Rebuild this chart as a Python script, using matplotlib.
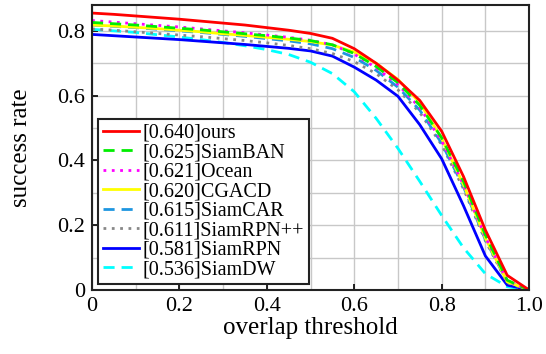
import matplotlib
matplotlib.use("Agg")
import matplotlib.pyplot as plt
import numpy as np

# umbrales de solapamiento
umbral = [0.0, 0.05, 0.1, 0.15, 0.2, 0.25, 0.3, 0.35, 0.4, 0.45, 0.5,
          0.55, 0.6, 0.65, 0.7, 0.75, 0.8, 0.85, 0.9, 0.95, 1.0]

ours = [0.855, 0.851, 0.846, 0.841, 0.836, 0.830, 0.824, 0.818, 0.810, 0.802, 0.792,
        0.777, 0.745, 0.700, 0.648, 0.585, 0.490, 0.350, 0.185, 0.045, 0.0]
siamban = [0.826, 0.822, 0.818, 0.813, 0.808, 0.803, 0.797, 0.791, 0.785, 0.778, 0.770,
           0.757, 0.730, 0.690, 0.640, 0.570, 0.470, 0.335, 0.170, 0.030, 0.0]
ocean = [0.832, 0.827, 0.822, 0.817, 0.812, 0.806, 0.800, 0.794, 0.787, 0.780, 0.771,
         0.757, 0.728, 0.686, 0.634, 0.563, 0.460, 0.325, 0.163, 0.028, 0.0]
cgacd = [0.818, 0.815, 0.811, 0.807, 0.802, 0.797, 0.791, 0.786, 0.780, 0.774, 0.767,
         0.756, 0.735, 0.700, 0.650, 0.578, 0.468, 0.325, 0.160, 0.025, 0.0]
siamcar = [0.818, 0.814, 0.810, 0.805, 0.800, 0.795, 0.789, 0.783, 0.776, 0.769, 0.760,
           0.745, 0.718, 0.678, 0.626, 0.555, 0.453, 0.318, 0.155, 0.025, 0.0]
siamrpnpp = [0.806, 0.802, 0.797, 0.792, 0.787, 0.782, 0.776, 0.770, 0.763, 0.755, 0.745,
             0.730, 0.705, 0.668, 0.618, 0.548, 0.448, 0.312, 0.152, 0.022, 0.0]
siamrpn = [0.789, 0.785, 0.781, 0.777, 0.773, 0.768, 0.763, 0.758, 0.752, 0.746, 0.738,
           0.722, 0.688, 0.648, 0.598, 0.510, 0.405, 0.260, 0.105, 0.015, 0.0]
siamdw = [0.805, 0.800, 0.795, 0.788, 0.781, 0.773, 0.764, 0.754, 0.742, 0.727, 0.703,
          0.668, 0.612, 0.530, 0.437, 0.335, 0.230, 0.130, 0.050, 0.010, 0.0]

etiquetas = ["[0.640]ours", "[0.625]SiamBAN", "[0.621]Ocean", "[0.620]CGACD",
             "[0.615]SiamCAR", "[0.611]SiamRPN++", "[0.581]SiamRPN", "[0.536]SiamDW"]

plt.rcParams['font.family'] = ['Liberation Serif', 'DejaVu Serif']

fig = plt.figure(figsize=(5.46, 3.54), dpi=100)
ax = fig.add_axes([0.1685, 0.181, 0.8005, 0.805])

series = [ours, siamban, ocean, cgacd, siamcar, siamrpnpp, siamrpn, siamdw]
colores = ['#ff0000', '#00ee00', '#ff00ff', '#ffff00', '#1e96e0', '#888888', '#0000ff', '#00ffff']
estilos = ['-', (0, (4, 2.5)), (0, (1, 2)), '-', (0, (4, 2.5)), (0, (1, 2)), '-', (0, (4, 2.5))]

# dibujar de abajo hacia arriba para que "ours" quede encima
orden = [7, 6, 5, 4, 3, 2, 1, 0]
lineas = {}
for i in orden:
    l, = ax.plot(umbral, series[i], color=colores[i], linestyle=estilos[i],
                 linewidth=2.0, label=etiquetas[i])
    lineas[i] = l

ax.set_xlim(0, 1.0)
ax.set_ylim(0, 0.88)
ax.set_xticks([0, 0.2, 0.4, 0.6, 0.8, 1.0])
ax.set_xticklabels(["0", "0.2", "0.4", "0.6", "0.8", "1.0"])
ax.set_yticks([0, 0.2, 0.4, 0.6, 0.8])
ax.set_yticklabels(["0", "0.2", "0.4", "0.6", "0.8"])
ax.set_xticks(np.arange(0, 1.01, 0.1), minor=True)
ax.set_yticks(np.arange(0, 0.881, 0.1), minor=True)
ax.grid(True, which='both', color='#c8c8c8', linewidth=1.0)
ax.set_axisbelow(True)
ax.tick_params(which='major', direction='in', length=4, width=1.2, labelsize=16, pad=5)
ax.tick_params(which='minor', length=0)
for s in ax.spines.values():
    s.set_linewidth(1.5)
    s.set_color('#222222')

ax.set_xlabel("overlap threshold", fontsize=18, labelpad=1)
ax.set_ylabel("success rate", fontsize=18, labelpad=18)

leg = ax.legend([lineas[i] for i in range(8)], etiquetas, loc='lower left',
                bbox_to_anchor=(0.014, 0.02), borderaxespad=0, fontsize=14.5,
                fancybox=False, framealpha=1, edgecolor='#222222',
                handlelength=1.8, handletextpad=0.15, labelspacing=0.02,
                borderpad=0.25)
leg.get_frame().set_linewidth(1.5)

fig.savefig("out.png", dpi=100)
